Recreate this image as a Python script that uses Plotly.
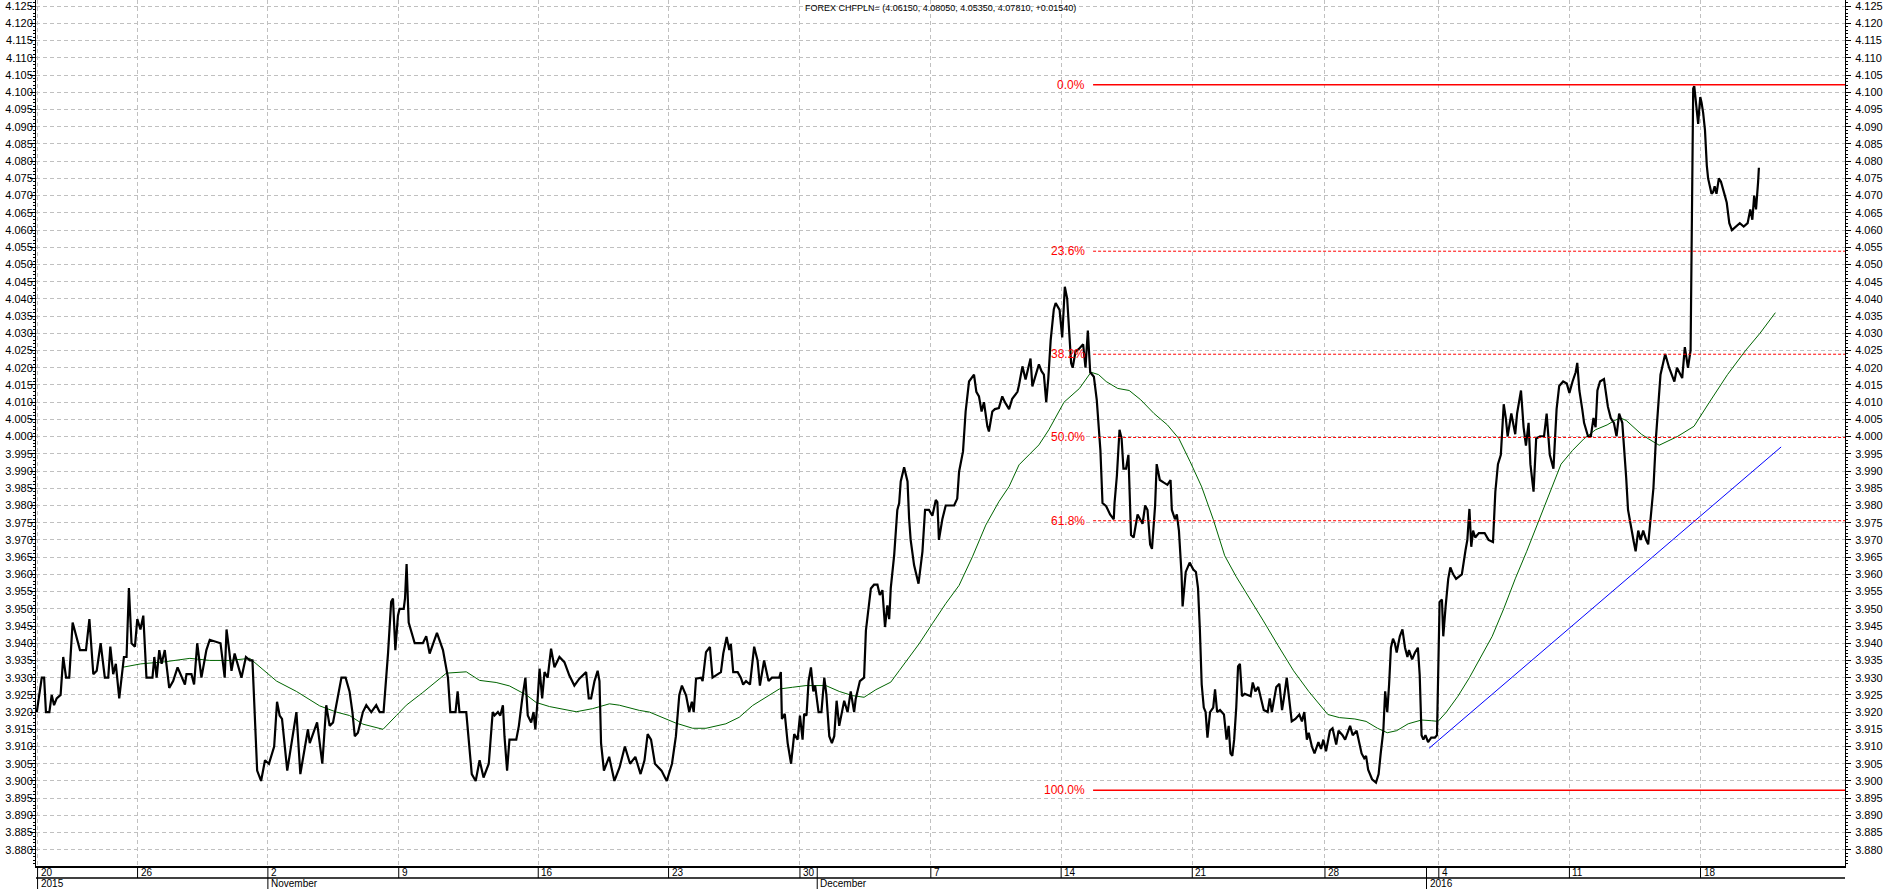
import plotly.graph_objects as go

# ---------------- data ----------------
title_text = "FOREX CHFPLN= (4.06150, 4.08050, 4.05350, 4.07810, +0.01540)"

# x = trading-day index (0 = left edge of chart, 20 Oct 2015)
price_x = [
    0.03, 0.22, 0.31, 0.38, 0.51, 0.60, 0.69, 0.79, 0.94, 1.04, 1.15, 1.27, 1.40, 1.53, 1.68, 1.91, 2.04, 2.19, 2.32, 2.47,
    2.63, 2.76, 2.84, 2.95, 3.05, 3.18, 3.36, 3.46, 3.55, 3.65, 3.78, 3.87, 3.99, 4.10, 4.22, 4.45, 4.52, 4.61, 4.71, 4.80,
    4.92, 5.09, 5.24, 5.41, 5.69, 5.75, 5.94, 6.04, 6.16, 6.32, 6.51, 6.64, 7.05, 7.21, 7.28, 7.38, 7.47, 7.59, 7.85, 8.02,
    8.17, 8.27, 8.36, 8.45, 8.60, 8.75, 8.90, 9.10, 9.21, 9.31, 9.40, 9.50, 9.60, 9.95, 10.01, 10.10, 10.39, 10.46, 10.74, 10.84,
    10.94, 11.09, 11.22, 11.35, 11.48, 11.67, 11.83, 11.98, 12.09, 12.18, 12.30, 12.49, 12.62, 12.81, 13.00, 13.13, 13.28, 13.45, 13.57, 13.64,
    13.73, 13.83, 13.89, 14.05, 14.10, 14.16, 14.24, 14.47, 14.78, 14.91, 15.04, 15.19, 15.32, 15.55, 15.74, 15.83, 16.03, 16.11, 16.18, 16.44,
    16.54, 16.65, 16.80, 16.95, 17.10, 17.30, 17.45, 17.52, 17.65, 17.74, 17.84, 17.90, 18.00, 18.09, 18.35, 18.45, 18.58, 18.70, 18.79, 18.92,
    19.01, 19.08, 19.17, 19.24, 19.34, 19.43, 19.55, 19.68, 19.81, 20.00, 20.19, 20.38, 20.57, 20.76, 21.02, 21.12, 21.21, 21.34, 21.46, 21.53,
    21.59, 21.70, 21.90, 22.10, 22.30, 22.50, 22.70, 22.90, 23.10, 23.25, 23.37, 23.50, 23.65, 23.90, 24.10, 24.30, 24.45, 24.58, 24.68, 24.84,
    24.96, 25.06, 25.13, 25.22, 25.41, 25.47, 25.60, 25.75, 25.85, 26.04, 26.17, 26.26, 26.39, 26.49, 26.55, 26.64, 26.81, 26.93, 27.02, 27.13,
    27.28, 27.44, 27.57, 27.66, 27.82, 27.99, 28.12, 28.40, 28.46, 28.50, 28.61, 28.72, 28.85, 28.97, 29.10, 29.19, 29.29, 29.35, 29.44, 29.52,
    29.61, 29.70, 29.77, 29.90, 30.01, 30.12, 30.20, 30.31, 30.41, 30.50, 30.59, 30.69, 30.88, 31.01, 31.13, 31.26, 31.32, 31.48, 31.64, 31.71,
    31.77, 31.90, 32.02, 32.15, 32.24, 32.34, 32.44, 32.53, 32.60, 32.66, 32.79, 32.91, 32.98, 33.04, 33.17, 33.30, 33.36, 33.42, 33.55, 33.72,
    33.87, 33.97, 34.12, 34.25, 34.38, 34.44, 34.50, 34.63, 34.76, 35.08, 35.20, 35.27, 35.42, 35.52, 35.65, 35.78, 35.84, 35.93, 36.03, 36.13,
    36.22, 36.35, 36.41, 36.54, 36.64, 36.79, 36.92, 37.02, 37.18, 37.30, 37.50, 37.56, 37.69, 37.81, 37.91, 38.00, 38.07, 38.19, 38.32, 38.42,
    38.51, 38.60, 38.68, 38.77, 38.89, 38.96, 39.11, 39.21, 39.31, 39.40, 39.46, 39.55, 39.61, 39.72, 39.84, 40.01, 40.10, 40.19, 40.28, 40.42,
    40.53, 40.67, 40.75, 40.89, 41.04, 41.18, 41.21, 41.30, 41.40, 41.48, 41.55, 41.65, 41.74, 41.84, 41.94, 42.09, 42.28, 42.38, 42.47, 42.57,
    42.64, 42.76, 42.82, 42.94, 43.08, 43.23, 43.35, 43.40, 43.52, 43.59, 43.67, 43.77, 43.81, 43.93, 44.08, 44.22, 44.32, 44.40, 44.47, 44.54,
    44.62, 44.69, 44.76, 44.86, 44.98, 45.05, 45.13, 45.24, 45.39, 45.49, 45.57, 45.64, 45.71, 45.78, 45.86, 45.93, 46.00, 46.08, 46.18, 46.41,
    46.49, 46.59, 46.70, 46.81, 46.91, 47.06, 47.14, 47.22, 47.39, 47.51, 47.61, 47.68, 47.79, 47.87, 47.98, 48.12, 48.27, 48.37, 48.46, 48.56,
    48.63, 48.75, 48.85, 49.00, 49.10, 49.19, 49.29, 49.44, 49.54, 49.68, 49.77, 49.92, 50.02, 50.21, 50.31, 50.46, 50.53, 50.65, 50.75, 50.82,
    50.90, 51.05, 51.20, 51.30, 51.38, 51.48, 51.55, 51.63, 51.70, 51.77, 51.85, 51.92, 51.99, 52.11, 52.21, 52.31, 52.40, 52.46, 52.58, 52.69,
    52.80, 52.87, 52.94, 53.01, 53.09, 53.19, 53.31, 53.45, 53.53, 53.57, 53.63, 53.72, 53.77, 53.86, 53.96, 54.04, 54.15, 54.26, 54.48, 54.62,
    54.69, 54.77, 54.84, 54.91, 54.99, 55.13, 55.35, 55.50, 55.67, 55.76, 55.86, 55.97, 56.08, 56.16, 56.23, 56.37, 56.52, 56.59, 56.74, 56.84,
    56.93, 57.03, 57.10, 57.22, 57.32, 57.47, 57.62, 57.72, 57.84, 57.98, 58.10, 58.20, 58.35, 58.49, 58.59, 58.71, 58.83, 58.89, 58.97, 59.08,
    59.15, 59.30, 59.41, 59.51, 59.59, 59.66, 59.76, 59.91, 60.00, 60.06, 60.17, 60.29, 60.39, 60.49, 60.61, 60.68, 60.76, 60.83, 60.93, 61.05,
    61.12, 61.22, 61.31, 61.41, 61.52, 61.60, 61.80, 61.90, 62.07, 62.25, 62.40, 62.60, 62.70, 62.90, 63.00, 63.12, 63.22, 63.28, 63.32, 63.36,
    63.41, 63.46, 63.51, 63.54, 63.59, 63.64, 63.70, 63.77, 63.80, 63.84, 63.89, 63.96, 64.02, 64.08, 64.14, 64.21, 64.30, 64.38, 64.47, 64.53,
    64.60, 64.70, 64.80, 64.95, 65.10, 65.25, 65.40, 65.50, 65.58, 65.65, 65.72, 65.80, 65.83,
]
price_y = [
    3.920, 3.930, 3.930, 3.920, 3.920, 3.925, 3.922, 3.924, 3.925, 3.936, 3.930, 3.930, 3.946, 3.942, 3.938, 3.938, 3.947, 3.931, 3.932, 3.940,
    3.930, 3.930, 3.939, 3.931, 3.934, 3.924, 3.936, 3.936, 3.956, 3.940, 3.939, 3.947, 3.944, 3.948, 3.930, 3.930, 3.936, 3.930, 3.938, 3.934,
    3.938, 3.927, 3.929, 3.933, 3.928, 3.931, 3.931, 3.928, 3.940, 3.930, 3.938, 3.941, 3.940, 3.930, 3.944, 3.938, 3.932, 3.937, 3.930, 3.936,
    3.935, 3.935, 3.919, 3.903, 3.900, 3.906, 3.905, 3.910, 3.923, 3.919, 3.918, 3.911, 3.903, 3.920, 3.912, 3.902, 3.915, 3.911, 3.917, 3.911,
    3.905, 3.922, 3.916, 3.917, 3.922, 3.930, 3.930, 3.926, 3.920, 3.913, 3.914, 3.920, 3.922, 3.920, 3.922, 3.920, 3.920, 3.937, 3.952, 3.953,
    3.938, 3.948, 3.950, 3.950, 3.953, 3.963, 3.946, 3.940, 3.940, 3.942, 3.937, 3.940, 3.943, 3.938, 3.930, 3.920, 3.920, 3.926, 3.920, 3.920,
    3.911, 3.902, 3.900, 3.906, 3.901, 3.905, 3.920, 3.919, 3.920, 3.919, 3.922, 3.913, 3.903, 3.912, 3.912, 3.916, 3.924, 3.930, 3.919, 3.917,
    3.920, 3.915, 3.924, 3.9326, 3.924, 3.9316, 3.930, 3.9384, 3.933, 3.936, 3.9345, 3.9306, 3.9277, 3.9297, 3.9316, 3.924, 3.924, 3.929, 3.932, 3.929,
    3.911, 3.903, 3.907, 3.900, 3.904, 3.910, 3.905, 3.907, 3.902, 3.906, 3.9136, 3.912, 3.905, 3.903, 3.900, 3.905, 3.913, 3.925, 3.9277, 3.9248,
    3.920, 3.923, 3.920, 3.9297, 3.930, 3.929, 3.9374, 3.9389, 3.930, 3.931, 3.9316, 3.937, 3.9418, 3.938, 3.9398, 3.9316, 3.9316, 3.930, 3.928, 3.929,
    3.928, 3.939, 3.935, 3.9277, 3.935, 3.929, 3.930, 3.930, 3.9316, 3.918, 3.9195, 3.911, 3.905, 3.9136, 3.912, 3.919, 3.912, 3.9195, 3.919, 3.929,
    3.933, 3.926, 3.9277, 3.920, 3.920, 3.930, 3.925, 3.913, 3.911, 3.913, 3.9233, 3.916, 3.9233, 3.920, 3.926, 3.920, 3.9238, 3.929, 3.930, 3.9437,
    3.948, 3.9559, 3.957, 3.957, 3.954, 3.9554, 3.9447, 3.951, 3.947, 3.956, 3.9656, 3.9787, 3.9806, 3.987, 3.9911, 3.987, 3.9763, 3.970, 3.9627, 3.9573,
    3.9666, 3.9787, 3.9787, 3.977, 3.9816, 3.981, 3.970, 3.976, 3.980, 3.980, 3.982, 3.9898, 3.9957, 4.0073, 4.016, 4.0175, 4.018, 4.013, 4.0117, 4.0073,
    4.010, 4.003, 4.0015, 4.0073, 4.008, 4.0083, 4.0117, 4.010, 4.008, 4.011, 4.013, 4.015, 4.0204, 4.0166, 4.0195, 4.0227, 4.0146, 4.018, 4.021, 4.019,
    4.018, 4.010, 4.017, 4.028, 4.037, 4.0388, 4.0368, 4.0288, 4.0435, 4.0401, 4.0314, 4.0214, 4.020, 4.0248, 4.0254, 4.0268, 4.020, 4.0308, 4.0187, 4.0174,
    4.0107, 3.996, 3.9807, 3.9798, 3.9774, 3.976, 3.9807, 3.9887, 4.002, 3.9994, 3.9907, 3.9907, 3.9947, 3.9714, 3.9707, 3.9774, 3.9747, 3.980, 3.9787, 3.9687,
    3.9674, 3.980, 3.992, 3.9874, 3.9867, 3.986, 3.9874, 3.9787, 3.976, 3.9774, 3.9727, 3.960, 3.9507, 3.9607, 3.9634, 3.9614, 3.9607, 3.956, 3.944, 3.928,
    3.9213, 3.920, 3.9126, 3.920, 3.9213, 3.9266, 3.920, 3.9206, 3.9193, 3.912, 3.916, 3.908, 3.9073, 3.912, 3.9213, 3.9333, 3.934, 3.9246, 3.9253, 3.9246,
    3.9286, 3.926, 3.9273, 3.924, 3.9206, 3.920, 3.924, 3.920, 3.9273, 3.9282, 3.9206, 3.924, 3.930, 3.9246, 3.9173, 3.918, 3.9193, 3.9173, 3.920, 3.912,
    3.914, 3.910, 3.908, 3.9113, 3.9093, 3.912, 3.9086, 3.9146, 3.9153, 3.9106, 3.9146, 3.9133, 3.912, 3.916, 3.9133, 3.9146, 3.912, 3.908, 3.9066, 3.9073,
    3.9033, 3.9005, 3.8995, 3.9020, 3.908, 3.9146, 3.926, 3.920, 3.928, 3.9387, 3.9413, 3.940, 3.9373, 3.942, 3.944, 3.9387, 3.936, 3.938, 3.9353, 3.9373,
    3.9387, 3.9307, 3.9133, 3.912, 3.9133, 3.9113, 3.9126, 3.9126, 3.9133, 3.9307, 3.952, 3.9527, 3.942, 3.9507, 3.9587, 3.962, 3.960, 3.9587, 3.960, 3.967,
    3.970, 3.979, 3.968, 3.9727, 3.9707, 3.972, 3.972, 3.970, 3.9694, 3.984, 3.992, 3.9947, 4.0094, 4.0054, 4.0001, 4.0067, 4.0007, 4.0067, 4.0134, 4.0027,
    3.9974, 4.004, 3.992, 3.984, 3.9994, 4.0001, 4.0001, 4.0067, 3.9947, 3.9907, 4.008, 4.0147, 4.016, 4.0154, 4.0127, 4.016, 4.0187, 4.0214, 4.0134, 4.008,
    4.004, 4.0001, 4.0001, 4.0054, 4.0027, 4.0134, 4.016, 4.0167, 4.012, 4.0087, 4.0054, 4.004, 4.0001, 4.0067, 4.004, 3.9974, 3.988, 3.9787, 3.974, 3.9694,
    3.9667, 3.9727, 3.970, 3.9727, 3.970, 3.9687, 3.985, 4.000, 4.018, 4.024, 4.020, 4.016, 4.020, 4.017, 4.026, 4.020, 4.025, 4.0744, 4.1011, 4.1018,
    4.0986, 4.0937, 4.0908, 4.094, 4.0986, 4.097, 4.094, 4.089, 4.084, 4.0787, 4.075, 4.0725, 4.0705, 4.071, 4.0727, 4.0705, 4.075, 4.074, 4.072, 4.070,
    4.068, 4.062, 4.060, 4.061, 4.062, 4.061, 4.062, 4.066, 4.063, 4.070, 4.066, 4.074, 4.0781,
]

ma_x = [
    3.3, 4.0, 4.92, 5.88, 6.64, 7.4, 8.17, 9.19, 9.95, 10.84, 11.48, 11.98, 12.49, 13.26, 13.77, 14.15, 14.78, 15.68, 16.44, 16.95,
    17.58, 18.09, 18.73, 19.11, 19.62, 20.0, 20.64, 21.27, 21.91, 22.29, 23.05, 23.44, 23.94, 24.45, 25.09, 25.6, 26.36, 26.87, 27.38, 27.89,
    28.4, 28.9, 29.42, 30.18, 30.69, 31.19, 31.64, 32.09, 32.66, 32.98, 33.36, 33.74, 34.25, 34.76, 35.27, 35.78, 36.29, 36.79, 37.18, 37.56,
    37.94, 38.32, 38.70, 39.28, 39.87, 40.31, 40.60, 40.89, 41.33, 41.77, 42.21, 42.72, 43.23, 43.67, 44.10, 44.54, 44.98, 45.42, 45.86, 46.30,
    46.88, 47.46, 48.05, 48.63, 49.07, 49.36, 49.8, 50.39, 50.82, 51.26, 51.63, 51.99, 52.43, 52.94, 53.31, 53.57, 53.89, 54.33, 54.77, 55.21,
    55.64, 56.08, 56.52, 56.96, 57.40, 57.84, 58.27, 58.71, 59.15, 59.59, 60.03, 60.32, 60.54, 60.76, 61.05, 61.34, 61.6, 62.02, 62.71, 63.35,
    63.94, 64.63, 65.32, 65.87, 66.46,
]
ma_y = [
    3.933, 3.934, 3.9346, 3.9356, 3.935, 3.935, 3.9356, 3.929, 3.926, 3.9218, 3.920, 3.919, 3.9165, 3.915, 3.919, 3.922, 3.9257, 3.9313, 3.9317, 3.9292,
    3.9286, 3.9276, 3.925, 3.9228, 3.9216, 3.921, 3.9201, 3.921, 3.9224, 3.922, 3.9205, 3.920, 3.9185, 3.9168, 3.9153, 3.9153, 3.9166, 3.9185, 3.9219, 3.9243,
    3.9267, 3.9272, 3.9277, 3.9277, 3.926, 3.9248, 3.9243, 3.9265, 3.9287, 3.932, 3.936, 3.9398, 3.9457, 3.9515, 3.9568, 3.9651, 3.9743, 3.9811, 3.9855, 3.9918,
    3.9947, 3.9976, 4.002, 4.010, 4.014, 4.0187, 4.018, 4.016, 4.014, 4.0134, 4.0107, 4.0067, 4.0034, 3.9994, 3.9927, 3.9854, 3.976, 3.9654, 3.9593, 3.954,
    3.9467, 3.9393, 3.932, 3.926, 3.922, 3.9193, 3.9184, 3.918, 3.9173, 3.9153, 3.914, 3.9146, 3.9166, 3.9177, 3.9175, 3.9173, 3.920, 3.9246, 3.930, 3.936,
    3.942, 3.950, 3.9587, 3.9667, 3.9754, 3.984, 3.992, 3.996, 3.9994, 4.002, 4.0034, 4.0047, 4.0054, 4.0047, 4.0027, 4.0007, 3.9994, 3.9975, 4.000, 4.003,
    4.010, 4.018, 4.025, 4.030, 4.036,
]

trend_x = [53.23, 66.68]
trend_y = [3.9095, 3.997]

fib_high = 4.1022
fib_low = 3.8973
fib_start_x = 40.39
fib_ratios = [0.0, 0.236, 0.382, 0.5, 0.618, 1.0]
fib_labels = ["0.0%", "23.6%", "38.2%", "50.0%", "61.8%", "100.0%"]

week_ticks = [0.06, 3.88, 8.86, 13.86, 19.19, 24.17, 29.19, 34.19, 39.17, 44.18, 49.25, 53.60, 58.59, 63.60]
week_labels = ["20", "26", "2", "9", "16", "23", "30", "7", "14", "21", "28", "4", "11", "18"]
month_ticks = [0.06, 8.86, 29.85, 53.13]
month_labels = ["2015", "November", "December", "2016"]

x_range = [0, 69.12]
y_range = [3.8753, 4.1268]

# ---------------- figure ----------------
W, H = 1883, 889
ML, MR, MT, MB = 36, 36, 0, 23
plot_h = H - MT - MB

fig = go.Figure()

fig.add_trace(go.Scatter(x=ma_x, y=ma_y, mode="lines",
                         line=dict(color="#006400", width=1), hoverinfo="skip"))
fig.add_trace(go.Scatter(x=trend_x, y=trend_y, mode="lines",
                         line=dict(color="#0000ff", width=1), hoverinfo="skip"))
fig.add_trace(go.Scatter(x=price_x, y=price_y, mode="lines",
                         line=dict(color="#000000", width=2.2), hoverinfo="skip"))
# invisible trace for the right-hand axis
fig.add_trace(go.Scatter(x=[price_x[-1]], y=[price_y[-1]], yaxis="y2", mode="markers",
                         marker=dict(opacity=0), hoverinfo="skip"))

shapes = []
annotations = []
red = "#ff0000"
for r, lab in zip(fib_ratios, fib_labels):
    lvl = fib_high - r * (fib_high - fib_low)
    solid = r in (0.0, 1.0)
    shapes.append(dict(type="line", xref="x", yref="y", x0=fib_start_x, x1=x_range[1], y0=lvl, y1=lvl,
                       line=dict(color=red, width=1.5 if solid else 1, dash="solid" if solid else "3px,2px")))
    annotations.append(dict(xref="x", yref="y", x=fib_start_x, y=lvl, text=lab, showarrow=False,
                            xanchor="right", yanchor="middle", xshift=-6,
                            font=dict(family="Liberation Sans", size=12, color=red)))

# bottom date strip
row1 = -12 / plot_h
row2 = -23 / plot_h
shapes.append(dict(type="line", xref="x", yref="paper", x0=x_range[0], x1=x_range[1], y0=row1, y1=row1,
                   line=dict(color="black", width=1.5)))
for t in sorted(set(week_ticks + month_ticks)):
    shapes.append(dict(type="line", xref="x", yref="paper", x0=t, x1=t, y0=0, y1=row1,
                       line=dict(color="black", width=1)))
for t in month_ticks:
    shapes.append(dict(type="line", xref="x", yref="paper", x0=t, x1=t, y0=row1, y1=row2,
                       line=dict(color="black", width=1)))
for t, lab in zip(week_ticks, week_labels):
    annotations.append(dict(xref="x", yref="paper", x=t, y=row1 / 2, text=lab, showarrow=False,
                            xanchor="left", yanchor="middle", xshift=1,
                            font=dict(family="Liberation Sans", size=10, color="black")))
for t, lab in zip(month_ticks, month_labels):
    annotations.append(dict(xref="x", yref="paper", x=t, y=(row1 + row2) / 2, text=lab, showarrow=False,
                            xanchor="left", yanchor="middle", xshift=1,
                            font=dict(family="Liberation Sans", size=10, color="black")))

annotations.append(dict(xref="paper", yref="paper", x=0.5, y=1 - 8 / plot_h, text=title_text,
                        showarrow=False, xanchor="center", yanchor="middle",
                        font=dict(family="Liberation Sans Narrow, Liberation Sans", size=9, color="black")))

yaxis_common = dict(
    range=y_range, tick0=3.88, dtick=0.005, tickformat=".3f",
    ticks="outside", ticklen=5, tickcolor="black", tickwidth=1,
    minor=dict(dtick=0.001, ticks="outside", ticklen=2, tickcolor="black", showgrid=False),
    showline=True, linecolor="black", linewidth=1,
    tickfont=dict(family="Liberation Sans", size=11, color="black"),
    ticklabeloverflow="allow",
    zeroline=False, fixedrange=True,
)

fig.update_layout(
    width=W, height=H, autosize=False,
    margin=dict(l=ML, r=MR, t=MT, b=MB, pad=0),
    paper_bgcolor="white", plot_bgcolor="white",
    showlegend=False,
    xaxis=dict(range=x_range, tickmode="array", tickvals=week_ticks, showticklabels=False, ticks="",
               showgrid=True, gridcolor="#c0c0c0", griddash="4px,3px", gridwidth=1,
               showline=True, linecolor="black", linewidth=1.5, zeroline=False, fixedrange=True),
    yaxis=dict(side="left", showgrid=True, gridcolor="#c0c0c0", griddash="4px,3px", gridwidth=1,
               ticklabelstandoff=-5, **yaxis_common),
    yaxis2=dict(side="right", overlaying="y", showgrid=False, ticklabelstandoff=2, **yaxis_common),
    shapes=shapes,
    annotations=annotations,
)

fig.write_html("out.html")
